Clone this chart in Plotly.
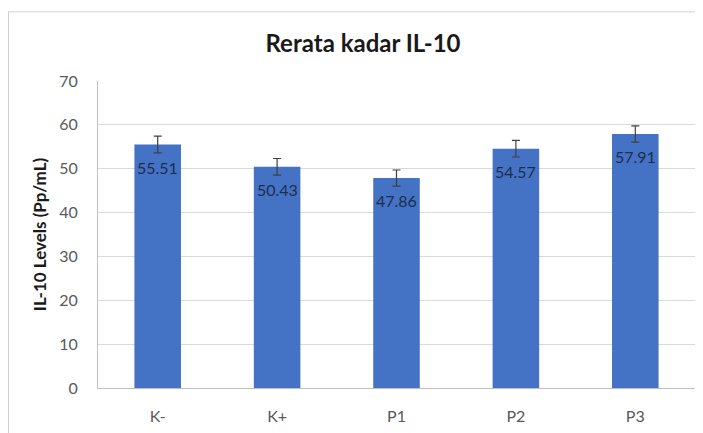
import plotly.graph_objects as go

categories = ["K-", "K+", "P1", "P2", "P3"]
means = [55.51, 50.43, 47.86, 54.57, 57.91]
errors = [1.9, 1.9, 1.85, 1.9, 1.85]
labels = ["55.51", "50.43", "47.86", "54.57", "57.91"]
y_ticks = [0, 10, 20, 30, 40, 50, 60, 70]

# page has an 8px body margin, so the figure is sized/offset to compensate
OFF = 8
W, H = 703 - OFF, 433 - OFF
L, R, T, B = 98 - OFF, 8, 81 - OFF, 41
pw, ph = W - L - R, H - T - B

fig = go.Figure()
fig.add_trace(go.Bar(
    x=categories, y=means,
    marker=dict(color="#4472C4", line=dict(width=0)),
    error_y=dict(type="data", array=errors, visible=True,
                 color="#404040", thickness=1.2, width=4),
    width=0.39,
))

for c, v, t in zip(categories, means, labels):
    fig.add_annotation(x=c, y=v, text=t, showarrow=False,
                       yanchor="top", yshift=-11,
                       font=dict(family="Lato", size=16, color="#1F2D4D"))

def px_x(px):
    return (px - OFF - L) / pw

def px_y(py):
    return (H - B - (py - OFF)) / ph

fig.add_shape(type="line", xref="paper", yref="paper",
              x0=px_x(8.5), x1=px_x(8.5), y0=px_y(11), y1=px_y(445),
              line=dict(color="#D0D0D0", width=1))
fig.add_shape(type="line", xref="paper", yref="paper",
              x0=px_x(8), x1=px_x(715), y0=px_y(11), y1=px_y(11),
              line=dict(color="#D0D0D0", width=1))

fig.update_layout(
    width=W, height=H,
    margin=dict(l=L, r=R, t=T, b=B),
    paper_bgcolor="white", plot_bgcolor="white",
    showlegend=False,
    title=dict(text="<b>Rerata kadar IL-10</b>", x=(363 - OFF) / W, xanchor="center",
               y=1 - (44 - OFF) / H, yanchor="middle",
               font=dict(family="Lato", size=24, color="#1a1a1a")),
    xaxis=dict(showline=True, linecolor="#BFBFBF", linewidth=1,
               tickfont=dict(family="Lato", size=16, color="#595959"),
               ticks="", ticklabelstandoff=14),
    yaxis=dict(range=[0, 70], tickvals=y_ticks, showgrid=True,
               gridcolor="#D9D9D9", gridwidth=1,
               showline=True, linecolor="#BFBFBF", linewidth=1,
               zeroline=False,
               tickfont=dict(family="Lato", size=16, color="#595959"),
               ticks="", ticklabelstandoff=16,
               title=dict(text="<b>IL-10 Levels (Pp/mL)</b>", standoff=8,
                          font=dict(family="Lato", size=17, color="#1a1a1a"))),
)

fig.write_html("out.html")
